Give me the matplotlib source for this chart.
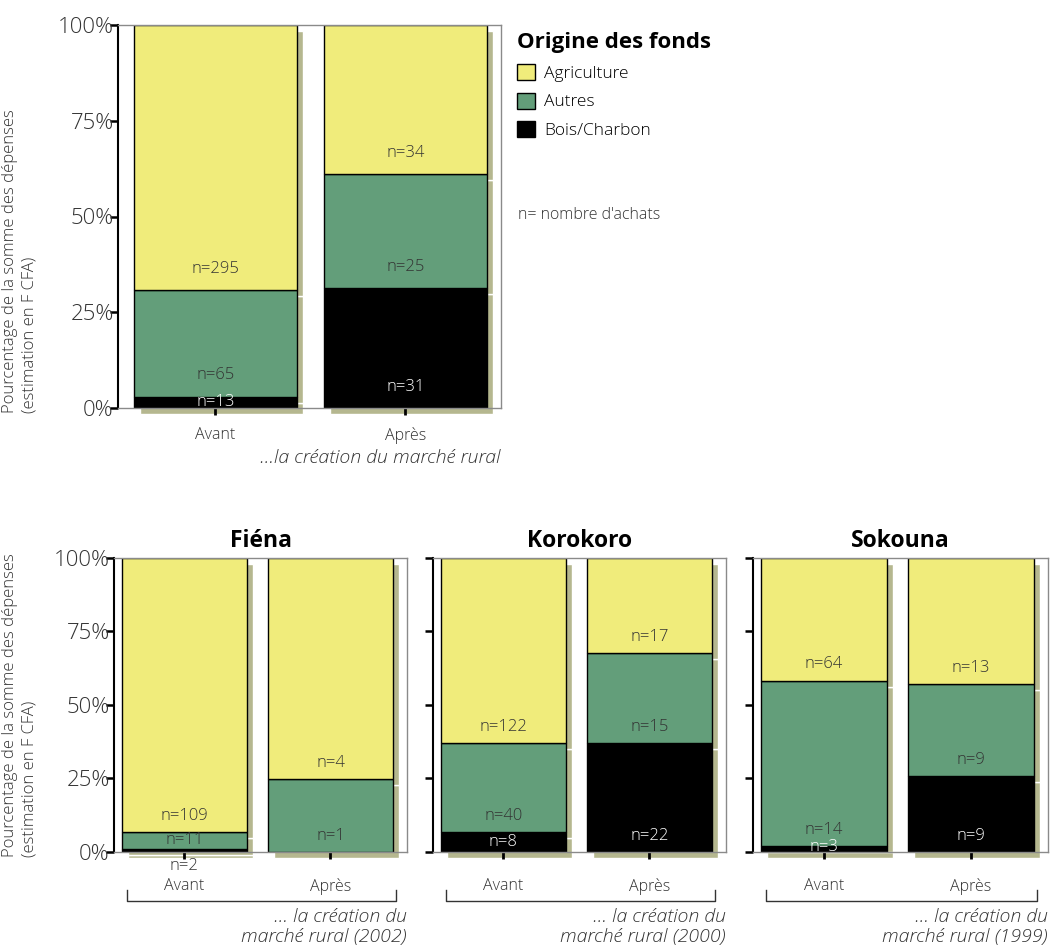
import numpy as np
import matplotlib
matplotlib.use("Agg")
import matplotlib.pyplot as plt
from matplotlib.transforms import ScaledTranslation, blended_transform_factory
from matplotlib.patches import Patch

plt.rcParams['font.family'] = ['Open Sans', 'DejaVu Sans']
plt.rcParams['font.weight'] = 'light'

# Données (pourcentages de la somme des dépenses, estimés sur la figure)
periodes = ["Avant", "Après"]
categories = ["Bois/Charbon", "Autres", "Agriculture"]
couleurs = ["#000000", "#639e7a", "#f0ec7b"]

# Ensemble des marchés
total_pct = {"Bois/Charbon": [3.0, 31.3],
             "Autres": [27.7, 29.9],
             "Agriculture": [69.3, 38.8]}
total_n = {"Bois/Charbon": [13, 31],
           "Autres": [65, 25],
           "Agriculture": [295, 34]}

# Par marché
marches = ["Fiéna", "Korokoro", "Sokouna"]
annees = ["2002", "2000", "1999"]
fiena_pct = {"Bois/Charbon": [0.9, 0.0], "Autres": [5.9, 24.6], "Agriculture": [93.2, 75.4]}
fiena_n = {"Bois/Charbon": [2, None], "Autres": [11, 1], "Agriculture": [109, 4]}
koro_pct = {"Bois/Charbon": [6.6, 37.0], "Autres": [30.3, 30.5], "Agriculture": [63.1, 32.5]}
koro_n = {"Bois/Charbon": [8, 22], "Autres": [40, 15], "Agriculture": [122, 17]}
soko_pct = {"Bois/Charbon": [1.9, 25.6], "Autres": [56.3, 31.4], "Agriculture": [41.8, 43.0]}
soko_n = {"Bois/Charbon": [3, 9], "Autres": [14, 9], "Agriculture": [64, 13]}

ombre = "#b5b78f"
gris = "#333333"

fig = plt.figure(figsize=(10.51, 9.5), dpi=100)
W, H = 1051, 950


def px_axes(l, r, t, b):
    return fig.add_axes([l / W, 1 - b / H, (r - l) / W, (b - t) / H])


def panneau(ax, pct, n, largeur, xlim, labels_y=True):
    x = np.arange(len(periodes))
    decal = ax.transData + ScaledTranslation(6 / 100, -6 / 100, fig.dpi_scale_trans)
    bas = np.zeros(len(periodes))
    # ombres
    for cat in categories:
        v = np.array(pct[cat])
        ax.bar(x, v, largeur, bottom=bas, color=ombre, edgecolor="white", linewidth=1.0,
               transform=decal, zorder=1, clip_on=False)
        bas += v
    bas = np.zeros(len(periodes))
    for cat, c in zip(categories, couleurs):
        v = np.array(pct[cat])
        ax.bar(x, v, largeur, bottom=bas, color=c, edgecolor="black", linewidth=1.0, zorder=2)
        for i in range(len(periodes)):
            if n[cat][i] is None:
                continue
            h = v[i]
            if h >= 8:
                y = bas[i] + 5.5
            elif h >= 1.5:
                y = bas[i] + max(h / 2, 1.6)
            else:
                y = -5.0
            tc = "white" if c == "#000000" and h >= 1.5 else gris
            ax.text(x[i], y, "n=%d" % n[cat][i], ha="center", va="center",
                    fontsize=12, color=tc, zorder=5, clip_on=False)
        bas += v
    ax.set_xlim(*xlim)
    ax.set_ylim(0, 100)
    ax.set_yticks([0, 25, 50, 75, 100])
    if labels_y:
        ax.set_yticklabels(["0%", "25%", "50%", "75%", "100%"], fontsize=16, color=gris)
    else:
        ax.set_yticklabels([])
    ax.tick_params(axis="y", length=6, width=1.8, color="black", pad=-3)
    ax.set_xticks(x)
    ax.set_xticklabels(periodes, fontsize=11.5, color=gris)
    ax.tick_params(axis="x", length=5, width=2, color="black")
    for s in ["top", "right", "bottom"]:
        ax.spines[s].set_color("#8a8a8a")
        ax.spines[s].set_linewidth(1.0)
    ax.spines["left"].set_color("black")
    ax.spines["left"].set_linewidth(1.5)


titre_y = "Pourcentage de la somme des dépenses\n(estimation en F CFA)"

# Graphique du haut
ax0 = px_axes(118, 501, 25, 408)
panneau(ax0, total_pct, total_n, 0.858, (-0.513, 1.503))
ax0.tick_params(axis="x", pad=9)
ax0.text(1.0, -0.13, "...la création du marché rural", transform=ax0.transAxes,
         ha="right", va="center", fontsize=14, style="italic", color=gris)
fig.text(20 / W, 1 - 413 / H, titre_y, rotation=90, ha="center", va="bottom",
         multialignment="left", fontsize=12, color=gris, linespacing=1.3)

# Légende
poignees = [Patch(facecolor=couleurs[i], edgecolor="black", linewidth=1.0) for i in [2, 1, 0]]
fig.legend(poignees, [categories[i] for i in [2, 1, 0]], loc="upper left",
           bbox_to_anchor=(517 / W, 1 - 32 / H), frameon=False,
           title="Origine des fonds", title_fontproperties={"weight": "bold", "size": 16},
           alignment="left", fontsize=12.5, handlelength=1.05, handleheight=1.05,
           handletextpad=0.5, labelspacing=0.62, borderaxespad=0, borderpad=0)
fig.text(518 / W, 1 - 215 / H, "n= nombre d'achats", ha="left", va="center",
         fontsize=11.5, color=gris)

# Graphiques du bas
positions = [(114, 407), (433, 726), (753, 1048)]
donnees = [(fiena_pct, fiena_n), (koro_pct, koro_n), (soko_pct, soko_n)]
for k, ((l, r), (pct, n), nom, an) in enumerate(zip(positions, donnees, marches, annees)):
    ax = px_axes(l, r, 557.7, 851.7)
    panneau(ax, pct, n, 0.855, (-0.48, 1.523), labels_y=(k == 0))
    ax.tick_params(axis="x", pad=14)
    ax.set_title(nom, fontsize=16.5, fontweight="bold", pad=8)
    tr = blended_transform_factory(ax.transData, ax.transAxes)
    ax.plot([-0.39, -0.39, 1.45, 1.45], [-0.13, -0.167, -0.167, -0.13], color=gris,
            linewidth=1.0, transform=tr, clip_on=False)
    ax.text(1.0, -0.322, "... la création du\nmarché rural (%s)" % an, transform=ax.transAxes,
            ha="right", va="bottom", fontsize=14, style="italic", color=gris,
            linespacing=1.2)
    if k == 0:
        fig.text(20 / W, 1 - 857 / H, titre_y, rotation=90, ha="center", va="bottom",
                 multialignment="left", fontsize=12, color=gris, linespacing=1.3)

fig.savefig("out.png", dpi=100)
